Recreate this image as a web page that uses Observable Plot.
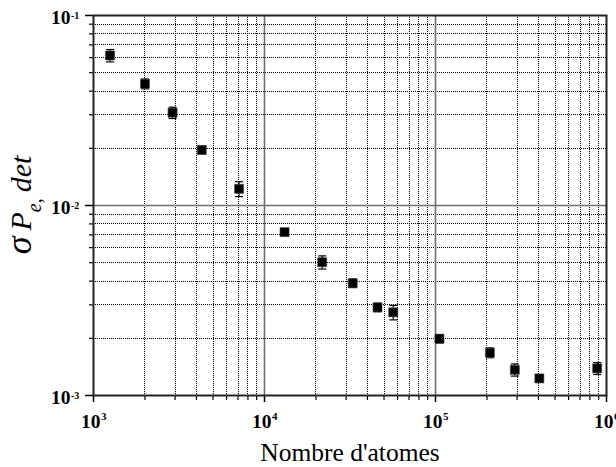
<!DOCTYPE html>
<html>
<head>
<meta charset="utf-8">
<script src="https://cdn.jsdelivr.net/npm/d3@7"></script>
<script src="https://cdn.jsdelivr.net/npm/@observablehq/plot@0.6"></script>
<style>
  html, body { margin: 0; padding: 0; background: white; }
</style>
</head>
<body>
<div id="chart"></div>
<script>
// Data
const atoms = [1250, 2000, 2900, 4300, 7100, 13100, 21750, 32800, 45800, 56600, 105500, 208000, 291000, 405000, 882000];
const sigma = [0.0616, 0.0437, 0.0308, 0.0196, 0.01224, 0.00724, 0.00503, 0.0039, 0.00291, 0.00274, 0.00199, 0.00168, 0.001365, 0.00123, 0.00139];
const sigmaErr = [0.0046, 0.0026, 0.0021, 0.0009, 0.0011, 0.0002, 0.0004, 0.0002, 0.00015, 0.00024, 0.0001, 0.0001, 0.0001, 0.00005, 0.0001];

// Tick values and labels
const xMajor = [1e3, 1e4, 1e5, 1e6];
const xExp = ["3", "4", "5", "6"];
const yMajor = [1e-3, 1e-2, 1e-1];
const yExp = ["-3", "-2", "-1"];
const mult = [2, 3, 4, 5, 6, 7, 8, 9];
const xMinor = [1e3, 1e4, 1e5].flatMap(d => mult.map(m => m * d));
const yMinor = [1e-3, 1e-2].flatMap(d => mult.map(m => m * d));

const data = atoms.map((x, i) => ({x, y: sigma[i], lo: sigma[i] - sigmaErr[i], hi: sigma[i] + sigmaErr[i]}));

const capSymbol = {
  draw(context, size) {
    context.moveTo(-4, 0);
    context.lineTo(4, 0);
  }
};

const serif = "'Liberation Serif', 'Times New Roman', Times, serif";

const chart = Plot.plot({
  width: 616,
  height: 467,
  marginLeft: 93,
  marginRight: 10,
  marginTop: 15,
  marginBottom: 72,
  style: {fontFamily: serif, background: "white", color: "#000"},
  x: {type: "log", domain: [1e3, 1e6], label: null},
  y: {type: "log", domain: [1e-3, 1e-1], label: null},
  marks: [
    Plot.ruleX(xMinor, {x: d => d, stroke: "#000", strokeWidth: 1, strokeDasharray: "1,1", shapeRendering: "crispEdges"}),
    Plot.ruleY(yMinor, {y: d => d, stroke: "#000", strokeWidth: 1, strokeDasharray: "1,1", shapeRendering: "crispEdges"}),
    Plot.ruleX([1e4, 1e5], {x: d => d, stroke: "#6e6e6e", strokeWidth: 1.6}),
    Plot.ruleY([1e-2], {y: d => d, stroke: "#6e6e6e", strokeWidth: 1.6}),
    Plot.axisX({ticks: xMinor, tickSize: 5, tickFormat: () => "", label: null, strokeWidth: 1.2}),
    Plot.axisX({ticks: xMajor, tickSize: 7, tickFormat: () => "", label: null, strokeWidth: 1.5}),
    Plot.axisY({ticks: yMinor, tickSize: 4, tickFormat: () => "", label: null, strokeWidth: 1.2}),
    Plot.axisY({ticks: yMajor, tickSize: 8, tickFormat: () => "", label: null, strokeWidth: 1.5}),
    Plot.frame({stroke: "#222", strokeWidth: 2}),
    // tick labels
    Plot.text(xMajor, {x: d => d, frameAnchor: "bottom", text: () => "10", textAnchor: "end", dx: 7, dy: 32, lineAnchor: "bottom", fontSize: 19.5, fontWeight: "bold"}),
    Plot.text(xMajor, {x: d => d, frameAnchor: "bottom", text: (d, i) => xExp[i], textAnchor: "start", dx: 7.5, dy: 24, lineAnchor: "bottom", fontSize: 11, fontWeight: "bold"}),
    Plot.text(yMajor, {y: d => d, frameAnchor: "left", text: () => "10", textAnchor: "end", dx: -23, dy: 8, lineAnchor: "bottom", fontSize: 19.5, fontWeight: "bold"}),
    Plot.text(yMajor, {y: d => d, frameAnchor: "left", text: (d, i) => yExp[i], textAnchor: "start", dx: -22.5, dy: 3, lineAnchor: "bottom", fontSize: 10, fontWeight: "bold"}),
    Plot.text(["Nombre d'atomes"], {frameAnchor: "bottom", dy: 65, lineAnchor: "bottom", fontSize: 25.5}),
    // error bars
    Plot.ruleX(data, {x: "x", y1: "lo", y2: "hi", stroke: "#000", strokeWidth: 1.2}),
    Plot.dot(data, {x: "x", y: "lo", symbol: capSymbol, stroke: "#000", strokeWidth: 1.2, r: 3}),
    Plot.dot(data, {x: "x", y: "hi", symbol: capSymbol, stroke: "#000", strokeWidth: 1.2, r: 3}),
    // markers
    Plot.dot(data, {x: "x", y: "y", symbol: "square", r: 5.1, fill: "#000", stroke: "#444", strokeWidth: 0.6})
  ]
});

// Y axis title with subscript
const t = d3.select(chart).append("text")
  .attr("transform", "translate(31,205) rotate(-90)")
  .attr("text-anchor", "middle")
  .attr("font-family", serif)
  .attr("font-style", "italic")
  .attr("font-size", 30)
  .attr("fill", "#000");
t.append("tspan").attr("font-size", 36).text("σ");
t.append("tspan").text("\u2009P");
t.append("tspan").attr("font-size", 20).attr("dy", 10).text("e,");
t.append("tspan").attr("dy", -10).text("\u2009det");

document.getElementById("chart").appendChild(chart);
</script>
</body>
</html>
